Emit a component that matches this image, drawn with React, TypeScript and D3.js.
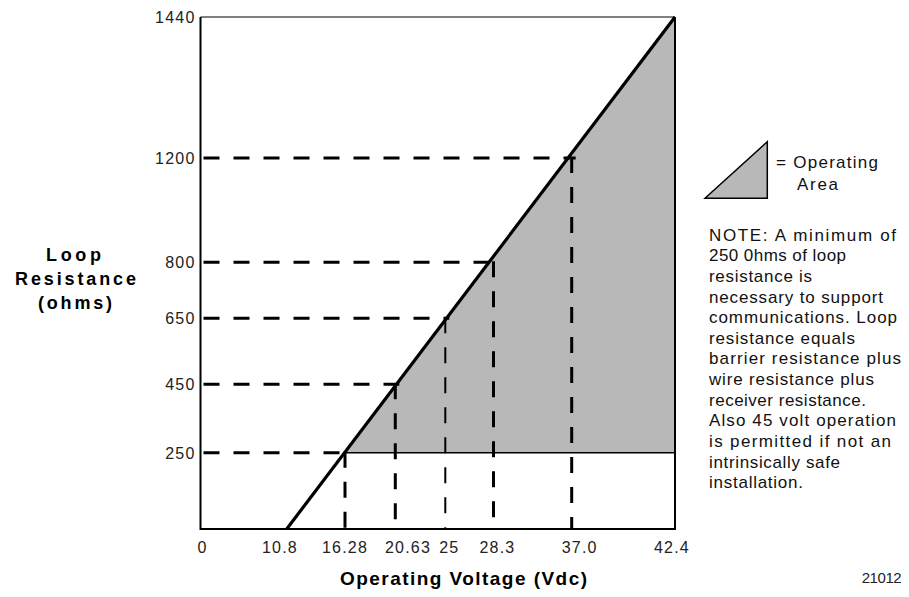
import React from "react";
import * as d3 from "d3";

// ---- data ----
const voltageTicks = [0, 10.8, 16.28, 20.63, 25, 28.3, 37.0, 42.4];
const voltageLabels = ["0", "10.8", "16.28", "20.63", "25", "28.3", "37.0", "42.4"];
const resistanceTicks = [250, 450, 650, 800, 1200, 1440];
const resistanceLabels = ["250", "450", "650", "800", "1200", "1440"];
const opVoltages = [16.28, 20.63, 25, 28.3, 37.0];
const opResistances = [250, 450, 650, 800, 1200];
const loadLineVoltages = [10.8, 42.4];
const loadLineResistances = [0, 1440];
const minResistance = 250;

const noteLines = [
  "NOTE: A minimum of",
  "250 0hms of loop",
  "resistance is",
  "necessary to support",
  "communications. Loop",
  "resistance equals",
  "barrier resistance plus",
  "wire resistance plus",
  "receiver resistance.",
  "Also 45 volt operation",
  "is permitted if not an",
  "intrinsically safe",
  "installation.",
];

// ---- layout (the original axes are not uniform, so scales are piecewise) ----
const W = 909;
const H = 597;
const xRange = [200.5, 286.7, 345, 395.3, 445.3, 493.5, 571.7, 675];
const yDomain = [0, 250, 450, 650, 800, 1200, 1440];
const yRange = [529, 452.7, 384.3, 318.3, 262.3, 158, 17];
const xLabelNudge = [2, -6.7, 0, 12.7, 4, 4, 8, -3];
const noteWidths = [187, 137, 103, 174, 188, 146, 192, 165, 157, 187, 182, 131, 94];

const x = d3.scaleLinear().domain(voltageTicks).range(xRange);
const y = d3.scaleLinear().domain(yDomain).range(yRange);

export default function App() {
  const left = x(0);
  const right = x(42.4);
  const top = y(1440);
  const bottom = y(0);

  const p0: [number, number] = [x(loadLineVoltages[0]), y(loadLineResistances[0])];
  const p1: [number, number] = [x(loadLineVoltages[1]), y(loadLineResistances[1])];
  const y250 = y(minResistance);
  const t = (y250 - p0[1]) / (p1[1] - p0[1]);
  const ix = p0[0] + t * (p1[0] - p0[0]);

  const line = d3.line<[number, number]>();
  const areaPts: [number, number][] = [
    [ix, y250],
    [p1[0], p1[1]],
    [right, y250],
  ];

  const font = "'Liberation Sans', Arial, sans-serif";
  const dash = "16,14";

  return (
    <svg
      width={W}
      height={H}
      style={{ position: "absolute", left: 0, top: 0, background: "#fff" }}
      fontFamily={font}
    >
      {/* operating area */}
      <path d={line(areaPts) + "Z"} fill="#b8b8b8" stroke="none" />
      <line x1={ix} y1={y250} x2={right} y2={y250} stroke="#000" strokeWidth={1.5} />

      {/* dashed guides */}
      {opVoltages.map((v, i) => {
        const cx = x(v);
        const cy = y(opResistances[i]);
        return (
          <g key={i}>
            <path
              d={line([[left + 3, cy], [cx + 4, cy]]) || ""}
              stroke="#000"
              strokeWidth={3}
              strokeDasharray={dash}
              fill="none"
            />
            <path
              d={line([[cx, cy - 1], [cx, bottom]]) || ""}
              stroke="#000"
              strokeWidth={v === 25 ? 2 : 3}
              strokeDasharray={dash}
              fill="none"
            />
          </g>
        );
      })}

      {/* frame */}
      <line x1={left} y1={top} x2={right} y2={top} stroke="#000" strokeWidth={1} />
      <line x1={left} y1={top} x2={left} y2={bottom + 1} stroke="#000" strokeWidth={2} />
      <line x1={right} y1={top} x2={right} y2={bottom + 1} stroke="#000" strokeWidth={2} />
      <line x1={left} y1={bottom} x2={right} y2={bottom} stroke="#000" strokeWidth={2} />

      {/* load line */}
      <path d={line([p0, p1]) || ""} stroke="#000" strokeWidth={3.2} fill="none" />

      {/* y tick labels */}
      {resistanceTicks.map((r, i) => (
        <text
          key={r}
          x={left - 5}
          y={y(r) + 6}
          textAnchor="end"
          fontSize={16}
          letterSpacing={1.2}
          fill="#222"
        >
          {resistanceLabels[i]}
        </text>
      ))}

      {/* x tick labels */}
      {voltageTicks.map((v, i) => (
        <text
          key={v}
          x={x(v) + xLabelNudge[i]}
          y={553}
          textAnchor="middle"
          fontSize={16}
          letterSpacing={1.2}
          fill="#222"
        >
          {voltageLabels[i]}
        </text>
      ))}

      {/* axis titles */}
      <g fontWeight="bold" fontSize={18} fill="#000">
        <text x={46} y={261} textLength={55} lengthAdjust="spacing">Loop</text>
        <text x={15} y={285} textLength={121} lengthAdjust="spacing">Resistance</text>
        <text x={38} y={309} textLength={74} lengthAdjust="spacing">(ohms)</text>
        <text x={340} y={585} fontSize={19} textLength={247} lengthAdjust="spacing">
          Operating Voltage (Vdc)
        </text>
      </g>

      {/* legend */}
      <path
        d={line([[705, 198.3], [767.3, 141.7], [767.3, 198.3]]) + "Z"}
        fill="#b8b8b8"
        stroke="#000"
        strokeWidth={1.5}
      />
      <text x={776} y={168} fontSize={17} textLength={102} lengthAdjust="spacing" fill="#111">
        = Operating
      </text>
      <text x={797} y={190} fontSize={17} textLength={41} lengthAdjust="spacing" fill="#111">
        Area
      </text>

      {/* note */}
      {noteLines.map((s, i) => (
        <text
          key={i}
          x={709}
          y={240.7 + i * 20.63}
          fontSize={17}
          textLength={noteWidths[i]}
          lengthAdjust="spacing"
          fill="#111"
        >
          {s}
        </text>
      ))}

      <text x={861.7} y={583} fontSize={15} textLength={40} lengthAdjust="spacing" fill="#222">
        21012
      </text>
    </svg>
  );
}
